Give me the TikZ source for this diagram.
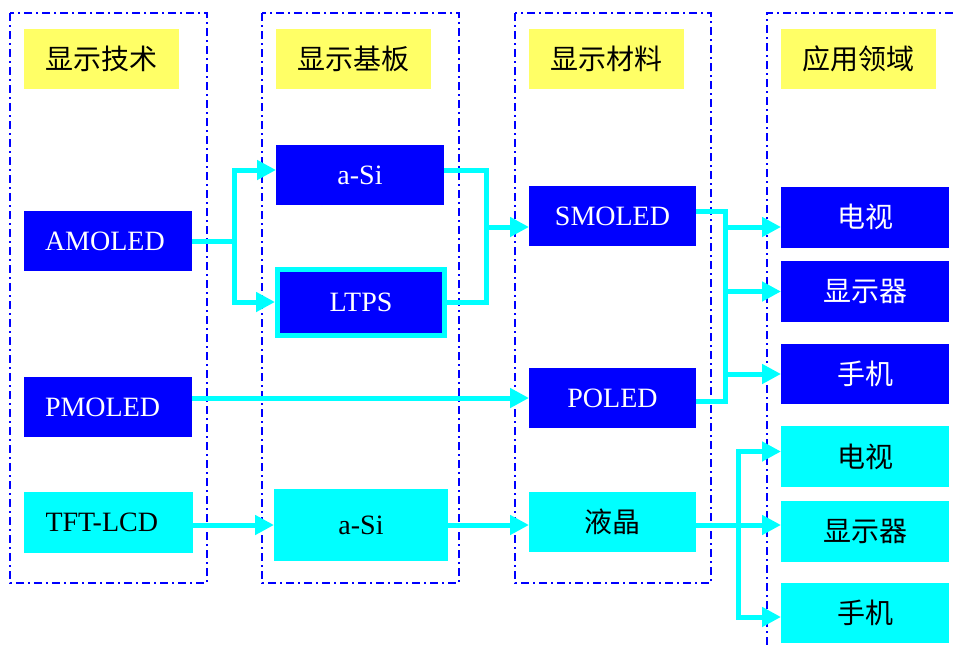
\documentclass[tikz,border=0pt]{standalone}
\usepackage{fontspec}
\setmainfont{Liberation Serif}
\newfontfamily\cjk{Noto Sans CJK SC}
\usetikzlibrary{arrows.meta,calc}
\definecolor{hdr}{HTML}{FFFF66}
\definecolor{bl}{HTML}{0000FF}
\definecolor{cy}{HTML}{00FFFF}
\begin{document}
\begin{tikzpicture}[x=1pt,y=-1pt,
  frame/.style={draw=bl,line width=1.8pt,dash pattern=on 8pt off 4pt on 2pt off 4pt},
  base/.style={inner sep=0pt,outer sep=0pt,minimum width=168pt,minimum height=60pt,font=\fontsize{28}{30}\selectfont},
  cjkfont/.style={font=\fontsize{28}{30}\selectfont\cjk},
  hbox/.style={base,fill=hdr,minimum width=155pt,text=black,cjkfont},
  bbox/.style={base,fill=bl,text=white},
  cbox/.style={base,fill=cy,text=black},
  leftt/.style={align=left,text width=126pt},
  line/.style={draw=cy,line width=5pt},
  conn/.style={line,-{Triangle[length=19pt,width=19pt]}}]
\useasboundingbox (0,0) rectangle (953,645);
% frames
\draw[frame] (10,13) rectangle (207,583);
\draw[frame] (262,13) rectangle (459,583);
\draw[frame] (515,13) rectangle (711,583);
\draw[frame] (767,645) -- (767,13) -- (953,13);
% headers
\node[hbox] (h1) at (101.5,59) {显示技术};
\node[hbox] (h2) at (353.5,59) {显示基板};
\node[hbox] (h3) at (606.5,59) {显示材料};
\node[hbox] (h4) at (858.5,59) {应用领域};
% column 1
\node[bbox,leftt] (amoled) at (108,241) {AMOLED};
\node[bbox,leftt] (pmoled) at (108,407) {PMOLED};
\node[cbox,leftt,minimum width=169pt,minimum height=61pt] (tft) at (108.5,522) {TFT-LCD};
% column 2
\node[bbox] (asi1) at (360,175) {a-Si};
\node[bbox,draw=cy,line width=5pt,minimum width=167pt,minimum height=66pt] (ltps) at (361,302) {LTPS};
\node[cbox,minimum width=174pt,minimum height=72pt] (asi2) at (361,525) {a-Si};
% column 3
\node[bbox,minimum width=167pt] (smoled) at (612.5,216) {SMOLED};
\node[bbox,minimum width=167pt] (poled) at (612.5,398) {POLED};
\node[cbox,minimum width=167pt,cjkfont] (yejing) at (612.5,522) {液晶};
% column 4
\node[bbox,minimum height=61pt,cjkfont] (tv1) at (865,217) {电视};
\node[bbox,minimum height=61pt,cjkfont] (disp1) at (865,291.5) {显示器};
\node[bbox,cjkfont] (phone1) at (865,374) {手机};
\node[cbox,minimum height=61pt,cjkfont] (tv2) at (865,456.5) {电视};
\node[cbox,minimum height=61pt,cjkfont] (disp2) at (865,531.5) {显示器};
\node[cbox,cjkfont] (phone2) at (865,613) {手机};
% connectors
\coordinate (j1) at ($(amoled.east)+(42,0)$);
\draw[line] (amoled.east) -- (j1);
\draw[conn] (j1) |- ($(asi1.west)+(0,-5)$);
\draw[conn] (j1) |- ($(ltps.west)+(-2.5,0)$);
\coordinate (j2) at ($(asi1.east)+(42,-5)$);
\draw[line] ($(asi1.east)+(0,-5)$) -- (j2) |- ($(ltps.east)+(2.5,0)$);
\coordinate (smin) at ($(smoled.west)+(0,11)$);
\draw[conn] (smin -| j2) -- (smin);
\draw[conn] (pmoled.east |- poled.west) -- (poled.west);
\draw[conn] (tft.east |- asi2.west) -- (asi2.west);
\draw[conn] (asi2.east) -- (asi2.east -| yejing.west);
\coordinate (j3) at ($(smoled.east)+(29,-5)$);
\draw[line] ($(smoled.east)+(0,-5)$) -- (j3) |- ($(poled.east)+(0,3)$);
\coordinate (tvin) at ($(tv1.west)+(0,10)$);
\draw[conn] (tvin -| j3) -- (tvin);
\draw[conn] (disp1.west -| j3) -- (disp1.west);
\draw[conn] (phone1.west -| j3) -- (phone1.west);
\coordinate (yout) at ($(yejing.east)+(0,3)$);
\coordinate (j4) at ($(yout)+(42,0)$);
\draw[conn] (yout) -- (yout -| disp2.west);
\draw[conn] (j4) |- ($(tv2.west)+(0,-5)$);
\draw[conn] (j4) |- ($(phone2.west)+(0,4)$);
\end{tikzpicture}
\end{document}
